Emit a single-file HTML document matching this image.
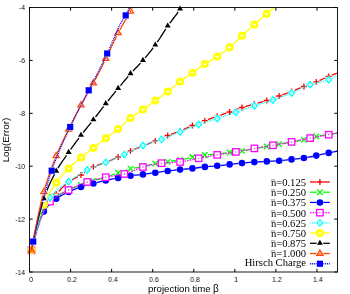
<!DOCTYPE html>
<html><head><meta charset="utf-8"><style>
html,body{margin:0;padding:0;background:#fff;}
body{width:350px;height:294px;position:relative;overflow:hidden;font-family:"Liberation Sans",sans-serif;color:#000;}
.t,.lg,.ax{will-change:transform;}
.t{position:absolute;font-size:7.4px;line-height:8px;white-space:nowrap;}
.yt{width:20px;text-align:right;left:5.2px;transform:scaleX(0.9);transform-origin:100% 50%;}
.xt{width:30px;text-align:center;transform:scaleX(0.92);transform-origin:50% 50%;}
.lg{position:absolute;font-family:"Liberation Serif",serif;font-size:10.6px;line-height:12px;white-space:nowrap;text-align:right;width:120px;left:185.8px;}
.nb{position:relative;display:inline-block;}.nb:before{content:"";position:absolute;left:0.3px;right:0.3px;top:1.2px;height:0.55px;background:#222;}
</style></head><body>
<svg width="350" height="294" viewBox="0 0 350 294" style="position:absolute;left:0;top:0">
<defs><clipPath id="c"><rect x="29" y="7" width="309" height="266"/></clipPath></defs>
<path clip-path="url(#c)" d="M31.40,250.50 L31.46,250.19 L31.59,249.55 L31.77,248.69 L31.99,247.64 L32.24,246.42 L32.53,245.05 L32.84,243.55 L33.19,241.94 L33.56,240.21 L33.96,238.39 L34.38,236.49 L34.82,234.51 L35.29,232.47 L35.78,230.39 L36.29,228.26 L36.82,226.12 L37.38,223.96 L37.95,221.82 L38.54,219.69 L39.15,217.61 L39.78,215.58 L40.43,213.64 L41.09,211.79 L41.78,210.07 L42.48,208.49 L43.19,207.07 L43.93,205.86 L44.68,204.77 L45.45,203.75 L46.23,202.79 L47.03,201.90 L47.84,201.06 L48.67,200.26 L49.52,199.51 L50.38,198.78 L51.25,198.07 L52.14,197.37 L53.04,196.65 L53.96,195.91 L54.90,195.11 L55.84,194.26 L56.80,193.33 L57.78,192.35 L58.77,191.34 L59.77,190.30 L60.78,189.24 L61.81,188.17 L62.85,187.10 L63.91,186.05 L64.98,185.03 L66.06,184.04 L67.15,183.11 L68.26,182.25 L69.38,181.47 L70.51,180.73 L71.65,180.05 L72.81,179.40 L73.98,178.77 L75.16,178.16 L76.35,177.54 L77.56,176.92 L78.77,176.27 L80.00,175.59 L81.24,174.85 L82.49,174.03 L83.76,173.16 L85.03,172.24 L86.32,171.30 L87.62,170.36 L88.92,169.44 L90.25,168.55 L91.58,167.74 L92.92,167.02 L94.27,166.40 L95.64,165.85 L97.01,165.34 L98.40,164.87 L99.80,164.42 L101.21,163.97 L102.63,163.51 L104.06,163.03 L105.50,162.50 L106.95,161.93 L108.41,161.33 L109.88,160.71 L111.36,160.07 L112.86,159.42 L114.36,158.74 L115.87,158.05 L117.40,157.35 L118.93,156.63 L120.48,155.86 L122.03,155.07 L123.59,154.25 L125.17,153.42 L126.75,152.60 L128.35,151.81 L129.95,151.06 L131.56,150.36 L133.19,149.70 L134.82,149.06 L136.47,148.44 L138.12,147.83 L139.78,147.21 L141.45,146.58 L143.13,145.91 L144.83,145.22 L146.53,144.52 L148.24,143.80 L149.96,143.07 L151.69,142.34 L153.42,141.60 L155.17,140.85 L156.93,140.10 L158.70,139.33 L160.47,138.55 L162.26,137.77 L164.05,136.99 L165.85,136.24 L167.67,135.51 L169.49,134.81 L171.32,134.15 L173.16,133.51 L175.01,132.87 L176.86,132.21 L178.73,131.52 L180.61,130.78 L182.49,129.99 L184.38,129.14 L186.28,128.27 L188.20,127.39 L190.11,126.52 L192.04,125.67 L193.98,124.87 L195.93,124.07 L197.88,123.29 L199.84,122.51 L201.81,121.75 L203.79,120.99 L205.78,120.25 L207.78,119.52 L209.79,118.80 L211.80,118.09 L213.82,117.38 L215.85,116.68 L217.89,115.97 L219.94,115.27 L222.00,114.58 L224.06,113.89 L226.14,113.19 L228.22,112.48 L230.31,111.75 L232.40,110.98 L234.51,110.19 L236.62,109.39 L238.75,108.61 L240.88,107.87 L243.02,107.18 L245.16,106.54 L247.32,105.93 L249.48,105.34 L251.65,104.75 L253.83,104.15 L256.02,103.54 L258.22,102.95 L260.42,102.35 L262.63,101.73 L264.85,101.09 L267.08,100.40 L269.31,99.65 L271.56,98.84 L273.81,98.00 L276.07,97.15 L278.33,96.30 L280.61,95.47 L282.89,94.66 L285.18,93.84 L287.48,93.01 L289.78,92.16 L292.10,91.28 L294.42,90.37 L296.75,89.42 L299.08,88.45 L301.43,87.50 L303.78,86.56 L306.14,85.65 L308.51,84.76 L310.88,83.88 L313.26,82.99 L315.65,82.06 L318.05,81.08 L320.45,80.06 L322.87,79.00 L325.29,77.94 L327.72,76.91 L330.15,75.90 L332.59,74.92 L335.04,73.95 L337.50,73.00" fill="none" stroke="#ff0000" stroke-width="1.3" stroke-linejoin="round"/>
<circle cx="31.45" cy="250.26" r="3.4" fill="#fff"/><path d="M28.55,250.26H34.35M31.45,247.36V253.16" stroke="#ff0000" stroke-width="1.3" fill="none"/>
<circle cx="43.84" cy="206.00" r="3.4" fill="#fff"/><path d="M40.94,206.00H46.73M43.84,203.10V208.90" stroke="#ff0000" stroke-width="1.3" fill="none"/>
<circle cx="56.22" cy="193.90" r="3.4" fill="#fff"/><path d="M53.32,193.90H59.12M56.22,191.00V196.80" stroke="#ff0000" stroke-width="1.3" fill="none"/>
<circle cx="68.61" cy="182.00" r="3.4" fill="#fff"/><path d="M65.70,182.00H71.51M68.61,179.10V184.90" stroke="#ff0000" stroke-width="1.3" fill="none"/>
<circle cx="80.99" cy="175.00" r="3.4" fill="#fff"/><path d="M78.09,175.00H83.89M80.99,172.10V177.90" stroke="#ff0000" stroke-width="1.3" fill="none"/>
<circle cx="93.38" cy="166.80" r="3.4" fill="#fff"/><path d="M90.48,166.80H96.28M93.38,163.90V169.70" stroke="#ff0000" stroke-width="1.3" fill="none"/>
<circle cx="105.76" cy="162.40" r="3.4" fill="#fff"/><path d="M102.86,162.40H108.66M105.76,159.50V165.30" stroke="#ff0000" stroke-width="1.3" fill="none"/>
<circle cx="118.15" cy="157.00" r="3.4" fill="#fff"/><path d="M115.25,157.00H121.05M118.15,154.10V159.90" stroke="#ff0000" stroke-width="1.3" fill="none"/>
<circle cx="130.53" cy="150.80" r="3.4" fill="#fff"/><path d="M127.63,150.80H133.43M130.53,147.90V153.70" stroke="#ff0000" stroke-width="1.3" fill="none"/>
<circle cx="142.92" cy="146.00" r="3.4" fill="#fff"/><path d="M140.02,146.00H145.82M142.92,143.10V148.90" stroke="#ff0000" stroke-width="1.3" fill="none"/>
<circle cx="155.30" cy="140.80" r="3.4" fill="#fff"/><path d="M152.40,140.80H158.20M155.30,137.90V143.70" stroke="#ff0000" stroke-width="1.3" fill="none"/>
<circle cx="167.69" cy="135.50" r="3.4" fill="#fff"/><path d="M164.78,135.50H170.59M167.69,132.60V138.40" stroke="#ff0000" stroke-width="1.3" fill="none"/>
<circle cx="180.07" cy="131.00" r="3.4" fill="#fff"/><path d="M177.17,131.00H182.97M180.07,128.10V133.90" stroke="#ff0000" stroke-width="1.3" fill="none"/>
<circle cx="192.45" cy="125.50" r="3.4" fill="#fff"/><path d="M189.55,125.50H195.35M192.45,122.60V128.40" stroke="#ff0000" stroke-width="1.3" fill="none"/>
<circle cx="204.84" cy="120.60" r="3.4" fill="#fff"/><path d="M201.94,120.60H207.74M204.84,117.70V123.50" stroke="#ff0000" stroke-width="1.3" fill="none"/>
<circle cx="217.22" cy="116.20" r="3.4" fill="#fff"/><path d="M214.32,116.20H220.12M217.22,113.30V119.10" stroke="#ff0000" stroke-width="1.3" fill="none"/>
<circle cx="229.61" cy="112.00" r="3.4" fill="#fff"/><path d="M226.71,112.00H232.51M229.61,109.10V114.90" stroke="#ff0000" stroke-width="1.3" fill="none"/>
<circle cx="241.99" cy="107.50" r="3.4" fill="#fff"/><path d="M239.09,107.50H244.89M241.99,104.60V110.40" stroke="#ff0000" stroke-width="1.3" fill="none"/>
<circle cx="254.38" cy="104.00" r="3.4" fill="#fff"/><path d="M251.48,104.00H257.28M254.38,101.10V106.90" stroke="#ff0000" stroke-width="1.3" fill="none"/>
<circle cx="266.76" cy="100.50" r="3.4" fill="#fff"/><path d="M263.86,100.50H269.66M266.76,97.60V103.40" stroke="#ff0000" stroke-width="1.3" fill="none"/>
<circle cx="279.15" cy="96.00" r="3.4" fill="#fff"/><path d="M276.25,96.00H282.05M279.15,93.10V98.90" stroke="#ff0000" stroke-width="1.3" fill="none"/>
<circle cx="291.53" cy="91.50" r="3.4" fill="#fff"/><path d="M288.63,91.50H294.43M291.53,88.60V94.40" stroke="#ff0000" stroke-width="1.3" fill="none"/>
<circle cx="303.92" cy="86.50" r="3.4" fill="#fff"/><path d="M301.02,86.50H306.82M303.92,83.60V89.40" stroke="#ff0000" stroke-width="1.3" fill="none"/>
<circle cx="316.30" cy="81.80" r="3.4" fill="#fff"/><path d="M313.40,81.80H319.20M316.30,78.90V84.70" stroke="#ff0000" stroke-width="1.3" fill="none"/>
<circle cx="328.69" cy="76.50" r="3.4" fill="#fff"/><path d="M325.79,76.50H331.59M328.69,73.60V79.40" stroke="#ff0000" stroke-width="1.3" fill="none"/>
<path clip-path="url(#c)" d="M31.40,250.50 L31.46,250.22 L31.59,249.65 L31.77,248.88 L31.99,247.94 L32.24,246.85 L32.53,245.63 L32.84,244.30 L33.19,242.85 L33.56,241.32 L33.96,239.69 L34.38,237.99 L34.82,236.22 L35.29,234.40 L35.78,232.53 L36.29,230.63 L36.82,228.70 L37.38,226.76 L37.95,224.82 L38.54,222.90 L39.15,221.00 L39.78,219.15 L40.43,217.35 L41.09,215.63 L41.78,214.00 L42.48,212.48 L43.19,211.09 L43.93,209.85 L44.68,208.70 L45.45,207.60 L46.23,206.53 L47.03,205.51 L47.84,204.53 L48.67,203.60 L49.52,202.70 L50.38,201.84 L51.25,201.01 L52.14,200.22 L53.04,199.45 L53.96,198.71 L54.90,197.99 L55.84,197.28 L56.80,196.58 L57.78,195.90 L58.77,195.25 L59.77,194.62 L60.78,194.01 L61.81,193.42 L62.85,192.85 L63.91,192.30 L64.98,191.75 L66.06,191.22 L67.15,190.69 L68.26,190.16 L69.38,189.64 L70.51,189.13 L71.65,188.63 L72.81,188.14 L73.98,187.66 L75.16,187.18 L76.35,186.72 L77.56,186.26 L78.77,185.81 L80.00,185.36 L81.24,184.91 L82.49,184.47 L83.76,184.04 L85.03,183.62 L86.32,183.21 L87.62,182.80 L88.92,182.39 L90.25,181.98 L91.58,181.56 L92.92,181.14 L94.27,180.72 L95.64,180.30 L97.01,179.89 L98.40,179.47 L99.80,179.05 L101.21,178.63 L102.63,178.20 L104.06,177.75 L105.50,177.29 L106.95,176.80 L108.41,176.30 L109.88,175.77 L111.36,175.24 L112.86,174.69 L114.36,174.14 L115.87,173.60 L117.40,173.06 L118.93,172.53 L120.48,171.97 L122.03,171.41 L123.59,170.84 L125.17,170.29 L126.75,169.76 L128.35,169.27 L129.95,168.84 L131.56,168.47 L133.19,168.15 L134.82,167.86 L136.47,167.60 L138.12,167.34 L139.78,167.07 L141.45,166.78 L143.13,166.46 L144.83,166.08 L146.53,165.68 L148.24,165.25 L149.96,164.81 L151.69,164.38 L153.42,163.98 L155.17,163.62 L156.93,163.31 L158.70,163.02 L160.47,162.74 L162.26,162.48 L164.05,162.22 L165.85,161.96 L167.67,161.70 L169.49,161.45 L171.32,161.22 L173.16,160.99 L175.01,160.75 L176.86,160.50 L178.73,160.22 L180.61,159.90 L182.49,159.50 L184.38,159.03 L186.28,158.52 L188.20,158.01 L190.11,157.52 L192.04,157.08 L193.98,156.71 L195.93,156.34 L197.88,156.00 L199.84,155.67 L201.81,155.38 L203.79,155.12 L205.78,154.90 L207.78,154.73 L209.79,154.57 L211.80,154.43 L213.82,154.29 L215.85,154.12 L217.89,153.93 L219.94,153.71 L222.00,153.46 L224.06,153.20 L226.14,152.93 L228.22,152.67 L230.31,152.42 L232.40,152.19 L234.51,151.98 L236.62,151.76 L238.75,151.52 L240.88,151.26 L243.02,150.94 L245.16,150.55 L247.32,150.10 L249.48,149.62 L251.65,149.15 L253.83,148.70 L256.02,148.30 L258.22,147.93 L260.42,147.56 L262.63,147.19 L264.85,146.83 L267.08,146.45 L269.31,146.06 L271.56,145.66 L273.81,145.26 L276.07,144.86 L278.33,144.45 L280.61,144.03 L282.89,143.61 L285.18,143.18 L287.48,142.75 L289.78,142.32 L292.10,141.90 L294.42,141.50 L296.75,141.12 L299.08,140.72 L301.43,140.30 L303.78,139.83 L306.14,139.25 L308.51,138.57 L310.88,137.83 L313.26,137.13 L315.65,136.54 L318.05,136.08 L320.45,135.69 L322.87,135.34 L325.29,135.01 L327.72,134.65 L330.15,134.26 L332.59,133.85 L335.04,133.43 L337.50,133.00" fill="none" stroke="#00ff00" stroke-width="1.3" stroke-linejoin="round"/>
<circle cx="31.45" cy="250.28" r="3.4" fill="#fff"/><path d="M28.65,247.48L34.25,253.08M28.65,253.08L34.25,247.48" stroke="#00ff00" stroke-width="1.3" fill="none"/>
<circle cx="43.84" cy="210.00" r="3.4" fill="#fff"/><path d="M41.04,207.20L46.63,212.80M41.04,212.80L46.63,207.20" stroke="#00ff00" stroke-width="1.3" fill="none"/>
<circle cx="56.22" cy="197.00" r="3.4" fill="#fff"/><path d="M53.42,194.20L59.02,199.80M53.42,199.80L59.02,194.20" stroke="#00ff00" stroke-width="1.3" fill="none"/>
<circle cx="68.61" cy="190.00" r="3.4" fill="#fff"/><path d="M65.81,187.20L71.41,192.80M65.81,192.80L71.41,187.20" stroke="#00ff00" stroke-width="1.3" fill="none"/>
<circle cx="80.99" cy="185.00" r="3.4" fill="#fff"/><path d="M78.19,182.20L83.79,187.80M78.19,187.80L83.79,182.20" stroke="#00ff00" stroke-width="1.3" fill="none"/>
<circle cx="93.38" cy="181.00" r="3.4" fill="#fff"/><path d="M90.58,178.20L96.18,183.80M90.58,183.80L96.18,178.20" stroke="#00ff00" stroke-width="1.3" fill="none"/>
<circle cx="105.76" cy="177.20" r="3.4" fill="#fff"/><path d="M102.96,174.40L108.56,180.00M102.96,180.00L108.56,174.40" stroke="#00ff00" stroke-width="1.3" fill="none"/>
<circle cx="118.15" cy="172.80" r="3.4" fill="#fff"/><path d="M115.35,170.00L120.95,175.60M115.35,175.60L120.95,170.00" stroke="#00ff00" stroke-width="1.3" fill="none"/>
<circle cx="130.53" cy="168.70" r="3.4" fill="#fff"/><path d="M127.73,165.90L133.33,171.50M127.73,171.50L133.33,165.90" stroke="#00ff00" stroke-width="1.3" fill="none"/>
<circle cx="142.92" cy="166.50" r="3.4" fill="#fff"/><path d="M140.12,163.70L145.72,169.30M140.12,169.30L145.72,163.70" stroke="#00ff00" stroke-width="1.3" fill="none"/>
<circle cx="155.30" cy="163.60" r="3.4" fill="#fff"/><path d="M152.50,160.80L158.10,166.40M152.50,166.40L158.10,160.80" stroke="#00ff00" stroke-width="1.3" fill="none"/>
<circle cx="167.69" cy="161.70" r="3.4" fill="#fff"/><path d="M164.88,158.90L170.49,164.50M164.88,164.50L170.49,158.90" stroke="#00ff00" stroke-width="1.3" fill="none"/>
<circle cx="180.07" cy="160.00" r="3.4" fill="#fff"/><path d="M177.27,157.20L182.87,162.80M177.27,162.80L182.87,157.20" stroke="#00ff00" stroke-width="1.3" fill="none"/>
<circle cx="192.45" cy="157.00" r="3.4" fill="#fff"/><path d="M189.65,154.20L195.25,159.80M189.65,159.80L195.25,154.20" stroke="#00ff00" stroke-width="1.3" fill="none"/>
<circle cx="204.84" cy="155.00" r="3.4" fill="#fff"/><path d="M202.04,152.20L207.64,157.80M202.04,157.80L207.64,152.20" stroke="#00ff00" stroke-width="1.3" fill="none"/>
<circle cx="217.22" cy="154.00" r="3.4" fill="#fff"/><path d="M214.42,151.20L220.02,156.80M214.42,156.80L220.02,151.20" stroke="#00ff00" stroke-width="1.3" fill="none"/>
<circle cx="229.61" cy="152.50" r="3.4" fill="#fff"/><path d="M226.81,149.70L232.41,155.30M226.81,155.30L232.41,149.70" stroke="#00ff00" stroke-width="1.3" fill="none"/>
<circle cx="241.99" cy="151.10" r="3.4" fill="#fff"/><path d="M239.19,148.30L244.79,153.90M239.19,153.90L244.79,148.30" stroke="#00ff00" stroke-width="1.3" fill="none"/>
<circle cx="254.38" cy="148.60" r="3.4" fill="#fff"/><path d="M251.58,145.80L257.18,151.40M251.58,151.40L257.18,145.80" stroke="#00ff00" stroke-width="1.3" fill="none"/>
<circle cx="266.76" cy="146.50" r="3.4" fill="#fff"/><path d="M263.96,143.70L269.56,149.30M263.96,149.30L269.56,143.70" stroke="#00ff00" stroke-width="1.3" fill="none"/>
<circle cx="279.15" cy="144.30" r="3.4" fill="#fff"/><path d="M276.35,141.50L281.95,147.10M276.35,147.10L281.95,141.50" stroke="#00ff00" stroke-width="1.3" fill="none"/>
<circle cx="291.53" cy="142.00" r="3.4" fill="#fff"/><path d="M288.73,139.20L294.33,144.80M288.73,144.80L294.33,139.20" stroke="#00ff00" stroke-width="1.3" fill="none"/>
<circle cx="303.92" cy="139.80" r="3.4" fill="#fff"/><path d="M301.12,137.00L306.72,142.60M301.12,142.60L306.72,137.00" stroke="#00ff00" stroke-width="1.3" fill="none"/>
<circle cx="316.30" cy="136.40" r="3.4" fill="#fff"/><path d="M313.50,133.60L319.10,139.20M313.50,139.20L319.10,133.60" stroke="#00ff00" stroke-width="1.3" fill="none"/>
<circle cx="328.69" cy="134.50" r="3.4" fill="#fff"/><path d="M325.89,131.70L331.49,137.30M325.89,137.30L331.49,131.70" stroke="#00ff00" stroke-width="1.3" fill="none"/>
<path clip-path="url(#c)" d="M31.40,250.50 L31.46,250.23 L31.59,249.69 L31.77,248.95 L31.99,248.04 L32.24,247.00 L32.53,245.83 L32.84,244.54 L33.19,243.16 L33.56,241.68 L33.96,240.12 L34.38,238.49 L34.82,236.79 L35.29,235.04 L35.78,233.24 L36.29,231.42 L36.82,229.56 L37.38,227.70 L37.95,225.83 L38.54,223.98 L39.15,222.15 L39.78,220.37 L40.43,218.63 L41.09,216.97 L41.78,215.39 L42.48,213.92 L43.19,212.57 L43.93,211.36 L44.68,210.23 L45.45,209.14 L46.23,208.09 L47.03,207.09 L47.84,206.12 L48.67,205.19 L49.52,204.31 L50.38,203.45 L51.25,202.64 L52.14,201.85 L53.04,201.10 L53.96,200.37 L54.90,199.66 L55.84,198.97 L56.80,198.29 L57.78,197.64 L58.77,197.02 L59.77,196.42 L60.78,195.84 L61.81,195.28 L62.85,194.74 L63.91,194.21 L64.98,193.69 L66.06,193.18 L67.15,192.67 L68.26,192.16 L69.38,191.64 L70.51,191.13 L71.65,190.63 L72.81,190.13 L73.98,189.64 L75.16,189.15 L76.35,188.68 L77.56,188.22 L78.77,187.77 L80.00,187.34 L81.24,186.92 L82.49,186.51 L83.76,186.13 L85.03,185.75 L86.32,185.39 L87.62,185.03 L88.92,184.68 L90.25,184.33 L91.58,183.97 L92.92,183.62 L94.27,183.26 L95.64,182.90 L97.01,182.54 L98.40,182.18 L99.80,181.83 L101.21,181.47 L102.63,181.13 L104.06,180.79 L105.50,180.46 L106.95,180.14 L108.41,179.82 L109.88,179.52 L111.36,179.21 L112.86,178.92 L114.36,178.62 L115.87,178.33 L117.40,178.04 L118.93,177.75 L120.48,177.45 L122.03,177.15 L123.59,176.85 L125.17,176.56 L126.75,176.28 L128.35,176.02 L129.95,175.78 L131.56,175.57 L133.19,175.38 L134.82,175.21 L136.47,175.05 L138.12,174.90 L139.78,174.74 L141.45,174.57 L143.13,174.37 L144.83,174.16 L146.53,173.94 L148.24,173.70 L149.96,173.46 L151.69,173.21 L153.42,172.96 L155.17,172.72 L156.93,172.47 L158.70,172.22 L160.47,171.97 L162.26,171.72 L164.05,171.47 L165.85,171.23 L167.67,171.00 L169.49,170.78 L171.32,170.56 L173.16,170.35 L175.01,170.14 L176.86,169.94 L178.73,169.74 L180.61,169.54 L182.49,169.36 L184.38,169.18 L186.28,169.00 L188.20,168.83 L190.11,168.64 L192.04,168.44 L193.98,168.23 L195.93,167.99 L197.88,167.74 L199.84,167.49 L201.81,167.24 L203.79,167.01 L205.78,166.81 L207.78,166.62 L209.79,166.45 L211.80,166.28 L213.82,166.11 L215.85,165.93 L217.89,165.73 L219.94,165.51 L222.00,165.28 L224.06,165.04 L226.14,164.79 L228.22,164.55 L230.31,164.32 L232.40,164.09 L234.51,163.86 L236.62,163.64 L238.75,163.41 L240.88,163.20 L243.02,163.01 L245.16,162.82 L247.32,162.63 L249.48,162.46 L251.65,162.29 L253.83,162.14 L256.02,161.99 L258.22,161.86 L260.42,161.74 L262.63,161.62 L264.85,161.51 L267.08,161.38 L269.31,161.26 L271.56,161.15 L273.81,161.03 L276.07,160.90 L278.33,160.76 L280.61,160.58 L282.89,160.37 L285.18,160.12 L287.48,159.86 L289.78,159.60 L292.10,159.34 L294.42,159.10 L296.75,158.86 L299.08,158.61 L301.43,158.33 L303.78,158.02 L306.14,157.65 L308.51,157.22 L310.88,156.74 L313.26,156.24 L315.65,155.73 L318.05,155.24 L320.45,154.72 L322.87,154.19 L325.29,153.65 L327.72,153.11 L330.15,152.58 L332.59,152.06 L335.04,151.53 L337.50,151.00" fill="none" stroke="#0000ff" stroke-width="1.3" stroke-linejoin="round"/>
<circle cx="31.45" cy="250.29" r="3.4" fill="#fff"/><circle cx="31.45" cy="250.29" r="3.3" fill="#0000ff"/>
<circle cx="43.84" cy="211.50" r="3.4" fill="#fff"/><circle cx="43.84" cy="211.50" r="3.3" fill="#0000ff"/>
<circle cx="56.22" cy="198.70" r="3.4" fill="#fff"/><circle cx="56.22" cy="198.70" r="3.3" fill="#0000ff"/>
<circle cx="68.61" cy="192.00" r="3.4" fill="#fff"/><circle cx="68.61" cy="192.00" r="3.3" fill="#0000ff"/>
<circle cx="80.99" cy="187.00" r="3.4" fill="#fff"/><circle cx="80.99" cy="187.00" r="3.3" fill="#0000ff"/>
<circle cx="93.38" cy="183.50" r="3.4" fill="#fff"/><circle cx="93.38" cy="183.50" r="3.3" fill="#0000ff"/>
<circle cx="105.76" cy="180.40" r="3.4" fill="#fff"/><circle cx="105.76" cy="180.40" r="3.3" fill="#0000ff"/>
<circle cx="118.15" cy="177.90" r="3.4" fill="#fff"/><circle cx="118.15" cy="177.90" r="3.3" fill="#0000ff"/>
<circle cx="130.53" cy="175.70" r="3.4" fill="#fff"/><circle cx="130.53" cy="175.70" r="3.3" fill="#0000ff"/>
<circle cx="142.92" cy="174.40" r="3.4" fill="#fff"/><circle cx="142.92" cy="174.40" r="3.3" fill="#0000ff"/>
<circle cx="155.30" cy="172.70" r="3.4" fill="#fff"/><circle cx="155.30" cy="172.70" r="3.3" fill="#0000ff"/>
<circle cx="167.69" cy="171.00" r="3.4" fill="#fff"/><circle cx="167.69" cy="171.00" r="3.3" fill="#0000ff"/>
<circle cx="180.07" cy="169.60" r="3.4" fill="#fff"/><circle cx="180.07" cy="169.60" r="3.3" fill="#0000ff"/>
<circle cx="192.45" cy="168.40" r="3.4" fill="#fff"/><circle cx="192.45" cy="168.40" r="3.3" fill="#0000ff"/>
<circle cx="204.84" cy="166.90" r="3.4" fill="#fff"/><circle cx="204.84" cy="166.90" r="3.3" fill="#0000ff"/>
<circle cx="217.22" cy="165.80" r="3.4" fill="#fff"/><circle cx="217.22" cy="165.80" r="3.3" fill="#0000ff"/>
<circle cx="229.61" cy="164.40" r="3.4" fill="#fff"/><circle cx="229.61" cy="164.40" r="3.3" fill="#0000ff"/>
<circle cx="241.99" cy="163.10" r="3.4" fill="#fff"/><circle cx="241.99" cy="163.10" r="3.3" fill="#0000ff"/>
<circle cx="254.38" cy="162.10" r="3.4" fill="#fff"/><circle cx="254.38" cy="162.10" r="3.3" fill="#0000ff"/>
<circle cx="266.76" cy="161.40" r="3.4" fill="#fff"/><circle cx="266.76" cy="161.40" r="3.3" fill="#0000ff"/>
<circle cx="279.15" cy="160.70" r="3.4" fill="#fff"/><circle cx="279.15" cy="160.70" r="3.3" fill="#0000ff"/>
<circle cx="291.53" cy="159.40" r="3.4" fill="#fff"/><circle cx="291.53" cy="159.40" r="3.3" fill="#0000ff"/>
<circle cx="303.92" cy="158.00" r="3.4" fill="#fff"/><circle cx="303.92" cy="158.00" r="3.3" fill="#0000ff"/>
<circle cx="316.30" cy="155.60" r="3.4" fill="#fff"/><circle cx="316.30" cy="155.60" r="3.3" fill="#0000ff"/>
<circle cx="328.69" cy="152.90" r="3.4" fill="#fff"/><circle cx="328.69" cy="152.90" r="3.3" fill="#0000ff"/>
<path clip-path="url(#c)" d="M31.40,250.50 L31.46,250.27 L31.59,249.79 L31.77,249.15 L31.99,248.37 L32.24,247.46 L32.53,246.43 L32.84,245.31 L33.19,244.09 L33.56,242.78 L33.96,241.39 L34.38,239.93 L34.82,238.40 L35.29,236.81 L35.78,235.16 L36.29,233.47 L36.82,231.73 L37.38,229.95 L37.95,228.14 L38.54,226.31 L39.15,224.46 L39.78,222.61 L40.43,220.76 L41.09,218.91 L41.78,217.09 L42.48,215.29 L43.19,213.52 L43.93,211.81 L44.68,210.15 L45.45,208.57 L46.23,207.07 L47.03,205.66 L47.84,204.36 L48.67,203.19 L49.52,202.15 L50.38,201.26 L51.25,200.42 L52.14,199.62 L53.04,198.86 L53.96,198.13 L54.90,197.44 L55.84,196.77 L56.80,196.14 L57.78,195.53 L58.77,194.95 L59.77,194.39 L60.78,193.85 L61.81,193.32 L62.85,192.81 L63.91,192.29 L64.98,191.78 L66.06,191.26 L67.15,190.73 L68.26,190.18 L69.38,189.61 L70.51,189.04 L71.65,188.48 L72.81,187.91 L73.98,187.36 L75.16,186.80 L76.35,186.26 L77.56,185.72 L78.77,185.19 L80.00,184.67 L81.24,184.16 L82.49,183.67 L83.76,183.19 L85.03,182.73 L86.32,182.29 L87.62,181.86 L88.92,181.45 L90.25,181.05 L91.58,180.66 L92.92,180.28 L94.27,179.91 L95.64,179.55 L97.01,179.19 L98.40,178.85 L99.80,178.52 L101.21,178.19 L102.63,177.87 L104.06,177.56 L105.50,177.26 L106.95,176.97 L108.41,176.70 L109.88,176.45 L111.36,176.22 L112.86,175.99 L114.36,175.77 L115.87,175.55 L117.40,175.32 L118.93,175.07 L120.48,174.80 L122.03,174.50 L123.59,174.17 L125.17,173.79 L126.75,173.32 L128.35,172.76 L129.95,172.14 L131.56,171.47 L133.19,170.77 L134.82,170.05 L136.47,169.33 L138.12,168.65 L139.78,168.01 L141.45,167.43 L143.13,166.95 L144.83,166.50 L146.53,166.06 L148.24,165.64 L149.96,165.22 L151.69,164.83 L153.42,164.46 L155.17,164.12 L156.93,163.81 L158.70,163.54 L160.47,163.31 L162.26,163.13 L164.05,162.98 L165.85,162.86 L167.67,162.75 L169.49,162.66 L171.32,162.57 L173.16,162.48 L175.01,162.38 L176.86,162.27 L178.73,162.12 L180.61,161.95 L182.49,161.70 L184.38,161.40 L186.28,161.03 L188.20,160.63 L190.11,160.20 L192.04,159.75 L193.98,159.30 L195.93,158.86 L197.88,158.45 L199.84,158.08 L201.81,157.70 L203.79,157.33 L205.78,156.96 L207.78,156.59 L209.79,156.22 L211.80,155.86 L213.82,155.50 L215.85,155.14 L217.89,154.79 L219.94,154.45 L222.00,154.12 L224.06,153.79 L226.14,153.47 L228.22,153.14 L230.31,152.81 L232.40,152.48 L234.51,152.13 L236.62,151.76 L238.75,151.38 L240.88,150.98 L243.02,150.57 L245.16,150.15 L247.32,149.73 L249.48,149.31 L251.65,148.90 L253.83,148.50 L256.02,148.12 L258.22,147.75 L260.42,147.38 L262.63,147.02 L264.85,146.66 L267.08,146.29 L269.31,145.93 L271.56,145.55 L273.81,145.16 L276.07,144.76 L278.33,144.36 L280.61,143.95 L282.89,143.53 L285.18,143.11 L287.48,142.68 L289.78,142.24 L292.10,141.80 L294.42,141.34 L296.75,140.86 L299.08,140.37 L301.43,139.88 L303.78,139.39 L306.14,138.90 L308.51,138.42 L310.88,137.96 L313.26,137.51 L315.65,137.07 L318.05,136.64 L320.45,136.21 L322.87,135.78 L325.29,135.34 L327.72,134.89 L330.15,134.43 L332.59,133.96 L335.04,133.48 L337.50,133.00" fill="none" stroke="#ff00ff" stroke-width="1.3" stroke-dasharray="1.5,1.1" stroke-linejoin="round"/>
<circle cx="31.45" cy="250.32" r="3.4" fill="#fff"/><rect x="28.25" y="247.12" width="6.4" height="6.4" fill="#fff" stroke="#ff00ff" stroke-width="1.3"/><circle cx="31.45" cy="250.32" r="0.65" fill="#ff00ff"/>
<circle cx="50.03" cy="201.60" r="3.4" fill="#fff"/><rect x="46.83" y="198.40" width="6.4" height="6.4" fill="#fff" stroke="#ff00ff" stroke-width="1.3"/><circle cx="50.03" cy="201.60" r="0.65" fill="#ff00ff"/>
<circle cx="68.61" cy="190.00" r="3.4" fill="#fff"/><rect x="65.41" y="186.80" width="6.4" height="6.4" fill="#fff" stroke="#ff00ff" stroke-width="1.3"/><circle cx="68.61" cy="190.00" r="0.65" fill="#ff00ff"/>
<circle cx="87.19" cy="182.00" r="3.4" fill="#fff"/><rect x="83.99" y="178.80" width="6.4" height="6.4" fill="#fff" stroke="#ff00ff" stroke-width="1.3"/><circle cx="87.19" cy="182.00" r="0.65" fill="#ff00ff"/>
<circle cx="105.77" cy="177.20" r="3.4" fill="#fff"/><rect x="102.57" y="174.00" width="6.4" height="6.4" fill="#fff" stroke="#ff00ff" stroke-width="1.3"/><circle cx="105.77" cy="177.20" r="0.65" fill="#ff00ff"/>
<circle cx="124.35" cy="174.00" r="3.4" fill="#fff"/><rect x="121.15" y="170.80" width="6.4" height="6.4" fill="#fff" stroke="#ff00ff" stroke-width="1.3"/><circle cx="124.35" cy="174.00" r="0.65" fill="#ff00ff"/>
<circle cx="142.93" cy="167.00" r="3.4" fill="#fff"/><rect x="139.73" y="163.80" width="6.4" height="6.4" fill="#fff" stroke="#ff00ff" stroke-width="1.3"/><circle cx="142.93" cy="167.00" r="0.65" fill="#ff00ff"/>
<circle cx="161.51" cy="163.20" r="3.4" fill="#fff"/><rect x="158.31" y="160.00" width="6.4" height="6.4" fill="#fff" stroke="#ff00ff" stroke-width="1.3"/><circle cx="161.51" cy="163.20" r="0.65" fill="#ff00ff"/>
<circle cx="180.09" cy="162.00" r="3.4" fill="#fff"/><rect x="176.89" y="158.80" width="6.4" height="6.4" fill="#fff" stroke="#ff00ff" stroke-width="1.3"/><circle cx="180.09" cy="162.00" r="0.65" fill="#ff00ff"/>
<circle cx="198.67" cy="158.30" r="3.4" fill="#fff"/><rect x="195.47" y="155.10" width="6.4" height="6.4" fill="#fff" stroke="#ff00ff" stroke-width="1.3"/><circle cx="198.67" cy="158.30" r="0.65" fill="#ff00ff"/>
<circle cx="217.25" cy="154.90" r="3.4" fill="#fff"/><rect x="214.05" y="151.70" width="6.4" height="6.4" fill="#fff" stroke="#ff00ff" stroke-width="1.3"/><circle cx="217.25" cy="154.90" r="0.65" fill="#ff00ff"/>
<circle cx="235.83" cy="151.90" r="3.4" fill="#fff"/><rect x="232.63" y="148.70" width="6.4" height="6.4" fill="#fff" stroke="#ff00ff" stroke-width="1.3"/><circle cx="235.83" cy="151.90" r="0.65" fill="#ff00ff"/>
<circle cx="254.41" cy="148.40" r="3.4" fill="#fff"/><rect x="251.21" y="145.20" width="6.4" height="6.4" fill="#fff" stroke="#ff00ff" stroke-width="1.3"/><circle cx="254.41" cy="148.40" r="0.65" fill="#ff00ff"/>
<circle cx="272.99" cy="145.30" r="3.4" fill="#fff"/><rect x="269.79" y="142.10" width="6.4" height="6.4" fill="#fff" stroke="#ff00ff" stroke-width="1.3"/><circle cx="272.99" cy="145.30" r="0.65" fill="#ff00ff"/>
<circle cx="291.57" cy="141.90" r="3.4" fill="#fff"/><rect x="288.37" y="138.70" width="6.4" height="6.4" fill="#fff" stroke="#ff00ff" stroke-width="1.3"/><circle cx="291.57" cy="141.90" r="0.65" fill="#ff00ff"/>
<circle cx="310.15" cy="138.10" r="3.4" fill="#fff"/><rect x="306.95" y="134.90" width="6.4" height="6.4" fill="#fff" stroke="#ff00ff" stroke-width="1.3"/><circle cx="310.15" cy="138.10" r="0.65" fill="#ff00ff"/>
<circle cx="328.73" cy="134.70" r="3.4" fill="#fff"/><rect x="325.53" y="131.50" width="6.4" height="6.4" fill="#fff" stroke="#ff00ff" stroke-width="1.3"/><circle cx="328.73" cy="134.70" r="0.65" fill="#ff00ff"/>
<path clip-path="url(#c)" d="M31.40,250.50 L31.46,250.25 L31.59,249.75 L31.77,249.07 L31.99,248.24 L32.24,247.28 L32.53,246.19 L32.84,245.00 L33.19,243.71 L33.56,242.33 L33.96,240.86 L34.38,239.31 L34.82,237.70 L35.29,236.01 L35.78,234.27 L36.29,232.47 L36.82,230.63 L37.38,228.75 L37.95,226.83 L38.54,224.88 L39.15,222.92 L39.78,220.94 L40.43,218.96 L41.09,216.98 L41.78,215.02 L42.48,213.07 L43.19,211.15 L43.93,209.28 L44.68,207.45 L45.45,205.69 L46.23,204.00 L47.03,202.39 L47.84,200.88 L48.67,199.48 L49.52,198.20 L50.38,197.05 L51.25,195.96 L52.14,194.92 L53.04,193.91 L53.96,192.95 L54.90,192.03 L55.84,191.14 L56.80,190.29 L57.78,189.46 L58.77,188.67 L59.77,187.90 L60.78,187.15 L61.81,186.41 L62.85,185.68 L63.91,184.96 L64.98,184.23 L66.06,183.49 L67.15,182.73 L68.26,181.95 L69.38,181.15 L70.51,180.34 L71.65,179.53 L72.81,178.72 L73.98,177.92 L75.16,177.12 L76.35,176.33 L77.56,175.54 L78.77,174.77 L80.00,174.01 L81.24,173.26 L82.49,172.52 L83.76,171.81 L85.03,171.11 L86.32,170.44 L87.62,169.79 L88.92,169.17 L90.25,168.57 L91.58,167.99 L92.92,167.42 L94.27,166.88 L95.64,166.34 L97.01,165.80 L98.40,165.28 L99.80,164.74 L101.21,164.21 L102.63,163.66 L104.06,163.10 L105.50,162.51 L106.95,161.91 L108.41,161.31 L109.88,160.71 L111.36,160.10 L112.86,159.49 L114.36,158.88 L115.87,158.25 L117.40,157.62 L118.93,156.97 L120.48,156.31 L122.03,155.63 L123.59,154.94 L125.17,154.22 L126.75,153.47 L128.35,152.67 L129.95,151.85 L131.56,151.00 L133.19,150.15 L134.82,149.30 L136.47,148.46 L138.12,147.64 L139.78,146.85 L141.45,146.11 L143.13,145.42 L144.83,144.78 L146.53,144.19 L148.24,143.62 L149.96,143.07 L151.69,142.54 L153.42,142.01 L155.17,141.48 L156.93,140.94 L158.70,140.37 L160.47,139.77 L162.26,139.13 L164.05,138.45 L165.85,137.75 L167.67,137.03 L169.49,136.28 L171.32,135.53 L173.16,134.76 L175.01,133.99 L176.86,133.22 L178.73,132.45 L180.61,131.69 L182.49,130.93 L184.38,130.15 L186.28,129.37 L188.20,128.58 L190.11,127.80 L192.04,127.02 L193.98,126.26 L195.93,125.51 L197.88,124.78 L199.84,124.09 L201.81,123.41 L203.79,122.76 L205.78,122.12 L207.78,121.49 L209.79,120.86 L211.80,120.24 L213.82,119.60 L215.85,118.95 L217.89,118.29 L219.94,117.62 L222.00,116.94 L224.06,116.25 L226.14,115.57 L228.22,114.87 L230.31,114.17 L232.40,113.46 L234.51,112.75 L236.62,112.03 L238.75,111.29 L240.88,110.54 L243.02,109.77 L245.16,109.01 L247.32,108.24 L249.48,107.48 L251.65,106.73 L253.83,105.99 L256.02,105.28 L258.22,104.59 L260.42,103.91 L262.63,103.24 L264.85,102.58 L267.08,101.90 L269.31,101.20 L271.56,100.48 L273.81,99.72 L276.07,98.94 L278.33,98.15 L280.61,97.33 L282.89,96.49 L285.18,95.63 L287.48,94.74 L289.78,93.83 L292.10,92.88 L294.42,91.85 L296.75,90.73 L299.08,89.56 L301.43,88.38 L303.78,87.23 L306.14,86.15 L308.51,85.18 L310.88,84.37 L313.26,83.69 L315.65,83.11 L318.05,82.58 L320.45,82.07 L322.87,81.52 L325.29,80.90 L327.72,80.16 L330.15,79.22 L332.59,77.99 L335.04,76.55 L337.50,75.00" fill="none" stroke="#00ffff" stroke-width="1.3" stroke-dasharray="1.0,0.9" stroke-linejoin="round"/>
<circle cx="31.45" cy="250.31" r="3.4" fill="#fff"/><path d="M31.45,247.11L34.25,250.31L31.45,253.51L28.65,250.31Z" fill="#fff" stroke="#00ffff" stroke-width="1.3"/><circle cx="31.45" cy="250.31" r="0.65" fill="#00ffff"/>
<circle cx="50.03" cy="197.50" r="3.4" fill="#fff"/><path d="M50.03,194.30L52.83,197.50L50.03,200.70L47.23,197.50Z" fill="#fff" stroke="#00ffff" stroke-width="1.3"/><circle cx="50.03" cy="197.50" r="0.65" fill="#00ffff"/>
<circle cx="68.61" cy="181.70" r="3.4" fill="#fff"/><path d="M68.61,178.50L71.41,181.70L68.61,184.90L65.81,181.70Z" fill="#fff" stroke="#00ffff" stroke-width="1.3"/><circle cx="68.61" cy="181.70" r="0.65" fill="#00ffff"/>
<circle cx="87.19" cy="170.00" r="3.4" fill="#fff"/><path d="M87.19,166.80L89.99,170.00L87.19,173.20L84.39,170.00Z" fill="#fff" stroke="#00ffff" stroke-width="1.3"/><circle cx="87.19" cy="170.00" r="0.65" fill="#00ffff"/>
<circle cx="105.77" cy="162.40" r="3.4" fill="#fff"/><path d="M105.77,159.20L108.57,162.40L105.77,165.60L102.97,162.40Z" fill="#fff" stroke="#00ffff" stroke-width="1.3"/><circle cx="105.77" cy="162.40" r="0.65" fill="#00ffff"/>
<circle cx="124.35" cy="154.60" r="3.4" fill="#fff"/><path d="M124.35,151.40L127.15,154.60L124.35,157.80L121.55,154.60Z" fill="#fff" stroke="#00ffff" stroke-width="1.3"/><circle cx="124.35" cy="154.60" r="0.65" fill="#00ffff"/>
<circle cx="142.93" cy="145.50" r="3.4" fill="#fff"/><path d="M142.93,142.30L145.73,145.50L142.93,148.70L140.13,145.50Z" fill="#fff" stroke="#00ffff" stroke-width="1.3"/><circle cx="142.93" cy="145.50" r="0.65" fill="#00ffff"/>
<circle cx="161.51" cy="139.40" r="3.4" fill="#fff"/><path d="M161.51,136.20L164.31,139.40L161.51,142.60L158.71,139.40Z" fill="#fff" stroke="#00ffff" stroke-width="1.3"/><circle cx="161.51" cy="139.40" r="0.65" fill="#00ffff"/>
<circle cx="180.09" cy="131.90" r="3.4" fill="#fff"/><path d="M180.09,128.70L182.89,131.90L180.09,135.10L177.29,131.90Z" fill="#fff" stroke="#00ffff" stroke-width="1.3"/><circle cx="180.09" cy="131.90" r="0.65" fill="#00ffff"/>
<circle cx="198.67" cy="124.50" r="3.4" fill="#fff"/><path d="M198.67,121.30L201.47,124.50L198.67,127.70L195.87,124.50Z" fill="#fff" stroke="#00ffff" stroke-width="1.3"/><circle cx="198.67" cy="124.50" r="0.65" fill="#00ffff"/>
<circle cx="217.25" cy="118.50" r="3.4" fill="#fff"/><path d="M217.25,115.30L220.05,118.50L217.25,121.70L214.45,118.50Z" fill="#fff" stroke="#00ffff" stroke-width="1.3"/><circle cx="217.25" cy="118.50" r="0.65" fill="#00ffff"/>
<circle cx="235.83" cy="112.30" r="3.4" fill="#fff"/><path d="M235.83,109.10L238.63,112.30L235.83,115.50L233.03,112.30Z" fill="#fff" stroke="#00ffff" stroke-width="1.3"/><circle cx="235.83" cy="112.30" r="0.65" fill="#00ffff"/>
<circle cx="254.41" cy="105.80" r="3.4" fill="#fff"/><path d="M254.41,102.60L257.21,105.80L254.41,109.00L251.61,105.80Z" fill="#fff" stroke="#00ffff" stroke-width="1.3"/><circle cx="254.41" cy="105.80" r="0.65" fill="#00ffff"/>
<circle cx="272.99" cy="100.00" r="3.4" fill="#fff"/><path d="M272.99,96.80L275.79,100.00L272.99,103.20L270.19,100.00Z" fill="#fff" stroke="#00ffff" stroke-width="1.3"/><circle cx="272.99" cy="100.00" r="0.65" fill="#00ffff"/>
<circle cx="291.57" cy="93.10" r="3.4" fill="#fff"/><path d="M291.57,89.90L294.37,93.10L291.57,96.30L288.77,93.10Z" fill="#fff" stroke="#00ffff" stroke-width="1.3"/><circle cx="291.57" cy="93.10" r="0.65" fill="#00ffff"/>
<circle cx="310.15" cy="84.60" r="3.4" fill="#fff"/><path d="M310.15,81.40L312.95,84.60L310.15,87.80L307.35,84.60Z" fill="#fff" stroke="#00ffff" stroke-width="1.3"/><circle cx="310.15" cy="84.60" r="0.65" fill="#00ffff"/>
<circle cx="328.73" cy="79.80" r="3.4" fill="#fff"/><path d="M328.73,76.60L331.53,79.80L328.73,83.00L325.93,79.80Z" fill="#fff" stroke="#00ffff" stroke-width="1.3"/><circle cx="328.73" cy="79.80" r="0.65" fill="#00ffff"/>
<path clip-path="url(#c)" d="M31.40,250.50 L31.45,250.26 L31.55,249.78 L31.70,249.13 L31.87,248.34 L32.07,247.42 L32.30,246.39 L32.55,245.25 L32.82,244.02 L33.11,242.71 L33.43,241.32 L33.76,239.85 L34.12,238.32 L34.49,236.73 L34.88,235.08 L35.28,233.38 L35.71,231.64 L36.14,229.87 L36.60,228.06 L37.07,226.23 L37.55,224.38 L38.05,222.51 L38.57,220.64 L39.09,218.77 L39.64,216.91 L40.19,215.07 L40.76,213.24 L41.35,211.45 L41.94,209.70 L42.55,208.00 L43.17,206.35 L43.81,204.77 L44.45,203.24 L45.11,201.74 L45.78,200.27 L46.46,198.83 L47.16,197.41 L47.87,196.03 L48.58,194.67 L49.31,193.35 L50.05,192.05 L50.80,190.77 L51.57,189.52 L52.34,188.30 L53.13,187.09 L53.92,185.90 L54.73,184.72 L55.54,183.55 L56.37,182.39 L57.21,181.25 L58.06,180.13 L58.91,179.03 L59.78,177.95 L60.66,176.90 L61.55,175.86 L62.45,174.84 L63.36,173.84 L64.27,172.84 L65.20,171.86 L66.14,170.89 L67.08,169.93 L68.04,168.96 L69.01,168.00 L69.98,167.05 L70.97,166.12 L71.96,165.20 L72.96,164.30 L73.98,163.40 L75.00,162.51 L76.03,161.63 L77.07,160.75 L78.11,159.88 L79.17,159.00 L80.24,158.12 L81.31,157.23 L82.40,156.36 L83.49,155.48 L84.59,154.62 L85.70,153.76 L86.82,152.90 L87.94,152.04 L89.08,151.18 L90.22,150.31 L91.37,149.44 L92.53,148.55 L93.70,147.65 L94.88,146.73 L96.07,145.81 L97.26,144.88 L98.46,143.94 L99.67,143.00 L100.89,142.05 L102.11,141.10 L103.35,140.15 L104.59,139.20 L105.84,138.24 L107.10,137.29 L108.36,136.35 L109.64,135.42 L110.92,134.49 L112.21,133.54 L113.50,132.59 L114.81,131.61 L116.12,130.61 L117.44,129.57 L118.77,128.49 L120.10,127.33 L121.44,126.13 L122.79,124.88 L124.15,123.60 L125.52,122.33 L126.89,121.07 L128.27,119.85 L129.66,118.69 L131.05,117.60 L132.46,116.58 L133.86,115.59 L135.28,114.64 L136.71,113.71 L138.14,112.79 L139.58,111.85 L141.02,110.90 L142.48,109.91 L143.94,108.88 L145.40,107.82 L146.88,106.74 L148.36,105.64 L149.85,104.54 L151.34,103.42 L152.85,102.31 L154.36,101.19 L155.87,100.08 L157.40,98.98 L158.93,97.88 L160.47,96.78 L162.01,95.68 L163.56,94.56 L165.12,93.42 L166.68,92.26 L168.26,91.06 L169.84,89.82 L171.42,88.55 L173.01,87.25 L174.61,85.94 L176.22,84.63 L177.83,83.34 L179.45,82.07 L181.07,80.84 L182.71,79.64 L184.35,78.44 L185.99,77.26 L187.64,76.09 L189.30,74.92 L190.97,73.75 L192.64,72.57 L194.32,71.38 L196.00,70.18 L197.70,68.98 L199.39,67.78 L201.10,66.60 L202.81,65.44 L204.53,64.30 L206.25,63.21 L207.98,62.16 L209.72,61.15 L211.46,60.14 L213.21,59.11 L214.96,58.05 L216.73,56.93 L218.49,55.74 L220.27,54.50 L222.05,53.22 L223.84,51.89 L225.63,50.51 L227.43,49.09 L229.23,47.61 L231.05,46.07 L232.86,44.42 L234.69,42.71 L236.52,40.94 L238.36,39.16 L240.20,37.38 L242.05,35.65 L243.90,33.95 L245.76,32.25 L247.63,30.55 L249.50,28.86 L251.38,27.17 L253.27,25.49 L255.16,23.81 L257.06,22.13 L258.96,20.44 L260.87,18.76 L262.78,17.10 L264.71,15.44 L266.63,13.81 L268.57,12.20 L270.50,10.62 L272.45,9.05 L274.40,7.50" fill="none" stroke="#ffff00" stroke-width="1.3" stroke-linejoin="round"/>
<circle cx="31.45" cy="250.27" r="3.4" fill="#fff"/><circle cx="31.45" cy="250.27" r="4.0" fill="#ffff00"/><path d="M29.65,249.37Q31.45,253.37 33.25,249.37Q31.45,251.17 29.65,249.37Z" fill="#fff" stroke="#fff" stroke-width="0.5" stroke-linejoin="round"/>
<circle cx="43.84" cy="204.70" r="3.4" fill="#fff"/><circle cx="43.84" cy="204.70" r="4.0" fill="#ffff00"/><path d="M42.04,203.80Q43.84,207.80 45.63,203.80Q43.84,205.60 42.04,203.80Z" fill="#fff" stroke="#fff" stroke-width="0.5" stroke-linejoin="round"/>
<circle cx="56.22" cy="182.60" r="3.4" fill="#fff"/><circle cx="56.22" cy="182.60" r="4.0" fill="#ffff00"/><path d="M54.42,181.70Q56.22,185.70 58.02,181.70Q56.22,183.50 54.42,181.70Z" fill="#fff" stroke="#fff" stroke-width="0.5" stroke-linejoin="round"/>
<circle cx="68.61" cy="168.40" r="3.4" fill="#fff"/><circle cx="68.61" cy="168.40" r="4.0" fill="#ffff00"/><path d="M66.81,167.50Q68.61,171.50 70.41,167.50Q68.61,169.30 66.81,167.50Z" fill="#fff" stroke="#fff" stroke-width="0.5" stroke-linejoin="round"/>
<circle cx="80.99" cy="157.50" r="3.4" fill="#fff"/><circle cx="80.99" cy="157.50" r="4.0" fill="#ffff00"/><path d="M79.19,156.60Q80.99,160.60 82.79,156.60Q80.99,158.40 79.19,156.60Z" fill="#fff" stroke="#fff" stroke-width="0.5" stroke-linejoin="round"/>
<circle cx="93.38" cy="147.90" r="3.4" fill="#fff"/><circle cx="93.38" cy="147.90" r="4.0" fill="#ffff00"/><path d="M91.58,147.00Q93.38,151.00 95.18,147.00Q93.38,148.80 91.58,147.00Z" fill="#fff" stroke="#fff" stroke-width="0.5" stroke-linejoin="round"/>
<circle cx="105.76" cy="138.30" r="3.4" fill="#fff"/><circle cx="105.76" cy="138.30" r="4.0" fill="#ffff00"/><path d="M103.96,137.40Q105.76,141.40 107.56,137.40Q105.76,139.20 103.96,137.40Z" fill="#fff" stroke="#fff" stroke-width="0.5" stroke-linejoin="round"/>
<circle cx="118.15" cy="129.00" r="3.4" fill="#fff"/><circle cx="118.15" cy="129.00" r="4.0" fill="#ffff00"/><path d="M116.35,128.10Q118.15,132.10 119.95,128.10Q118.15,129.90 116.35,128.10Z" fill="#fff" stroke="#fff" stroke-width="0.5" stroke-linejoin="round"/>
<circle cx="130.53" cy="118.00" r="3.4" fill="#fff"/><circle cx="130.53" cy="118.00" r="4.0" fill="#ffff00"/><path d="M128.73,117.10Q130.53,121.10 132.33,117.10Q130.53,118.90 128.73,117.10Z" fill="#fff" stroke="#fff" stroke-width="0.5" stroke-linejoin="round"/>
<circle cx="142.92" cy="109.60" r="3.4" fill="#fff"/><circle cx="142.92" cy="109.60" r="4.0" fill="#ffff00"/><path d="M141.12,108.70Q142.92,112.70 144.72,108.70Q142.92,110.50 141.12,108.70Z" fill="#fff" stroke="#fff" stroke-width="0.5" stroke-linejoin="round"/>
<circle cx="155.30" cy="100.50" r="3.4" fill="#fff"/><circle cx="155.30" cy="100.50" r="4.0" fill="#ffff00"/><path d="M153.50,99.60Q155.30,103.60 157.10,99.60Q155.30,101.40 153.50,99.60Z" fill="#fff" stroke="#fff" stroke-width="0.5" stroke-linejoin="round"/>
<circle cx="167.69" cy="91.50" r="3.4" fill="#fff"/><circle cx="167.69" cy="91.50" r="4.0" fill="#ffff00"/><path d="M165.88,90.60Q167.69,94.60 169.49,90.60Q167.69,92.40 165.88,90.60Z" fill="#fff" stroke="#fff" stroke-width="0.5" stroke-linejoin="round"/>
<circle cx="180.07" cy="81.60" r="3.4" fill="#fff"/><circle cx="180.07" cy="81.60" r="4.0" fill="#ffff00"/><path d="M178.27,80.70Q180.07,84.70 181.87,80.70Q180.07,82.50 178.27,80.70Z" fill="#fff" stroke="#fff" stroke-width="0.5" stroke-linejoin="round"/>
<circle cx="192.45" cy="72.70" r="3.4" fill="#fff"/><circle cx="192.45" cy="72.70" r="4.0" fill="#ffff00"/><path d="M190.65,71.80Q192.45,75.80 194.25,71.80Q192.45,73.60 190.65,71.80Z" fill="#fff" stroke="#fff" stroke-width="0.5" stroke-linejoin="round"/>
<circle cx="204.84" cy="64.10" r="3.4" fill="#fff"/><circle cx="204.84" cy="64.10" r="4.0" fill="#ffff00"/><path d="M203.04,63.20Q204.84,67.20 206.64,63.20Q204.84,65.00 203.04,63.20Z" fill="#fff" stroke="#fff" stroke-width="0.5" stroke-linejoin="round"/>
<circle cx="217.22" cy="56.60" r="3.4" fill="#fff"/><circle cx="217.22" cy="56.60" r="4.0" fill="#ffff00"/><path d="M215.42,55.70Q217.22,59.70 219.02,55.70Q217.22,57.50 215.42,55.70Z" fill="#fff" stroke="#fff" stroke-width="0.5" stroke-linejoin="round"/>
<circle cx="229.61" cy="47.30" r="3.4" fill="#fff"/><circle cx="229.61" cy="47.30" r="4.0" fill="#ffff00"/><path d="M227.81,46.40Q229.61,50.40 231.41,46.40Q229.61,48.20 227.81,46.40Z" fill="#fff" stroke="#fff" stroke-width="0.5" stroke-linejoin="round"/>
<circle cx="241.99" cy="35.70" r="3.4" fill="#fff"/><circle cx="241.99" cy="35.70" r="4.0" fill="#ffff00"/><path d="M240.19,34.80Q241.99,38.80 243.79,34.80Q241.99,36.60 240.19,34.80Z" fill="#fff" stroke="#fff" stroke-width="0.5" stroke-linejoin="round"/>
<circle cx="254.38" cy="24.50" r="3.4" fill="#fff"/><circle cx="254.38" cy="24.50" r="4.0" fill="#ffff00"/><path d="M252.58,23.60Q254.38,27.60 256.18,23.60Q254.38,25.40 252.58,23.60Z" fill="#fff" stroke="#fff" stroke-width="0.5" stroke-linejoin="round"/>
<circle cx="266.76" cy="13.70" r="3.4" fill="#fff"/><circle cx="266.76" cy="13.70" r="4.0" fill="#ffff00"/><path d="M264.96,12.80Q266.76,16.80 268.56,12.80Q266.76,14.60 264.96,12.80Z" fill="#fff" stroke="#fff" stroke-width="0.5" stroke-linejoin="round"/>
<path clip-path="url(#c)" d="M31.40,250.50 L31.43,250.34 L31.50,250.01 L31.58,249.57 L31.69,249.02 L31.81,248.39 L31.95,247.68 L32.11,246.90 L32.27,246.05 L32.46,245.14 L32.65,244.17 L32.85,243.15 L33.07,242.07 L33.30,240.94 L33.54,239.77 L33.79,238.56 L34.05,237.30 L34.32,236.01 L34.60,234.68 L34.89,233.32 L35.19,231.93 L35.49,230.51 L35.81,229.06 L36.13,227.59 L36.47,226.10 L36.81,224.59 L37.16,223.07 L37.52,221.53 L37.89,219.98 L38.26,218.43 L38.64,216.86 L39.03,215.30 L39.43,213.74 L39.84,212.17 L40.25,210.62 L40.67,209.07 L41.10,207.54 L41.53,206.02 L41.97,204.52 L42.42,203.04 L42.88,201.59 L43.34,200.17 L43.81,198.78 L44.28,197.42 L44.77,196.07 L45.26,194.73 L45.75,193.42 L46.25,192.11 L46.76,190.83 L47.28,189.55 L47.80,188.30 L48.33,187.06 L48.86,185.83 L49.40,184.62 L49.95,183.43 L50.50,182.25 L51.06,181.08 L51.62,179.92 L52.20,178.78 L52.77,177.64 L53.35,176.51 L53.94,175.39 L54.54,174.28 L55.14,173.17 L55.74,172.06 L56.35,170.96 L56.97,169.87 L57.59,168.80 L58.22,167.74 L58.86,166.70 L59.50,165.68 L60.14,164.67 L60.79,163.67 L61.45,162.68 L62.11,161.69 L62.77,160.72 L63.45,159.75 L64.12,158.78 L64.81,157.80 L65.49,156.83 L66.19,155.85 L66.89,154.86 L67.59,153.86 L68.30,152.84 L69.01,151.81 L69.73,150.78 L70.45,149.74 L71.18,148.70 L71.92,147.67 L72.66,146.62 L73.40,145.58 L74.15,144.54 L74.90,143.50 L75.66,142.45 L76.43,141.41 L77.20,140.36 L77.97,139.32 L78.75,138.27 L79.53,137.23 L80.32,136.18 L81.11,135.14 L81.91,134.10 L82.71,133.07 L83.52,132.04 L84.33,131.02 L85.15,130.00 L85.97,128.98 L86.80,127.97 L87.63,126.94 L88.46,125.92 L89.30,124.88 L90.15,123.84 L91.00,122.79 L91.85,121.73 L92.71,120.65 L93.57,119.55 L94.44,118.44 L95.31,117.31 L96.19,116.17 L97.07,115.02 L97.95,113.86 L98.84,112.69 L99.74,111.51 L100.63,110.33 L101.54,109.15 L102.44,107.97 L103.36,106.78 L104.27,105.60 L105.19,104.42 L106.12,103.25 L107.05,102.08 L107.98,100.90 L108.92,99.73 L109.86,98.56 L110.80,97.38 L111.75,96.21 L112.71,95.03 L113.67,93.85 L114.63,92.67 L115.60,91.49 L116.57,90.31 L117.54,89.13 L118.52,87.94 L119.51,86.75 L120.50,85.55 L121.49,84.35 L122.48,83.15 L123.48,81.94 L124.49,80.74 L125.50,79.54 L126.51,78.34 L127.53,77.15 L128.55,75.97 L129.57,74.79 L130.60,73.62 L131.63,72.47 L132.67,71.35 L133.71,70.24 L134.75,69.14 L135.80,68.05 L136.86,66.95 L137.91,65.85 L138.97,64.73 L140.04,63.60 L141.11,62.44 L142.18,61.24 L143.25,60.01 L144.33,58.76 L145.42,57.48 L146.51,56.19 L147.60,54.88 L148.69,53.55 L149.79,52.19 L150.90,50.80 L152.00,49.38 L153.11,47.94 L154.23,46.45 L155.35,44.94 L156.47,43.36 L157.59,41.71 L158.72,40.00 L159.86,38.25 L161.00,36.46 L162.14,34.65 L163.28,32.84 L164.43,31.03 L165.58,29.24 L166.74,27.49 L167.90,25.79 L169.06,24.16 L170.23,22.58 L171.40,21.04 L172.58,19.51 L173.75,17.99 L174.94,16.44 L176.12,14.85 L177.31,13.19 L178.50,11.45 L179.70,9.60 L180.90,7.50" fill="none" stroke="#000000" stroke-width="1.3" stroke-linejoin="round"/>
<circle cx="43.84" cy="198.70" r="3.4" fill="#fff"/><path d="M43.84,195.10L46.84,200.20L40.84,200.20Z" fill="#000000"/>
<circle cx="56.22" cy="171.20" r="3.4" fill="#fff"/><path d="M56.22,167.60L59.22,172.70L53.22,172.70Z" fill="#000000"/>
<circle cx="68.61" cy="152.40" r="3.4" fill="#fff"/><path d="M68.61,148.80L71.61,153.90L65.61,153.90Z" fill="#000000"/>
<circle cx="80.99" cy="135.30" r="3.4" fill="#fff"/><path d="M80.99,131.70L83.99,136.80L77.99,136.80Z" fill="#000000"/>
<circle cx="93.38" cy="119.80" r="3.4" fill="#fff"/><path d="M93.38,116.20L96.38,121.30L90.38,121.30Z" fill="#000000"/>
<circle cx="105.76" cy="103.70" r="3.4" fill="#fff"/><path d="M105.76,100.10L108.76,105.20L102.76,105.20Z" fill="#000000"/>
<circle cx="118.15" cy="88.40" r="3.4" fill="#fff"/><path d="M118.15,84.80L121.15,89.90L115.15,89.90Z" fill="#000000"/>
<circle cx="130.53" cy="73.70" r="3.4" fill="#fff"/><path d="M130.53,70.10L133.53,75.20L127.53,75.20Z" fill="#000000"/>
<circle cx="142.92" cy="60.40" r="3.4" fill="#fff"/><path d="M142.92,56.80L145.92,61.90L139.92,61.90Z" fill="#000000"/>
<circle cx="155.30" cy="45.00" r="3.4" fill="#fff"/><path d="M155.30,41.40L158.30,46.50L152.30,46.50Z" fill="#000000"/>
<circle cx="167.69" cy="26.10" r="3.4" fill="#fff"/><path d="M167.69,22.50L170.69,27.60L164.69,27.60Z" fill="#000000"/>
<circle cx="180.07" cy="9.00" r="3.4" fill="#fff"/><path d="M180.07,5.40L183.07,10.50L177.07,10.50Z" fill="#000000"/>
<path clip-path="url(#c)" d="M31.40,250.50 L31.42,250.38 L31.46,250.14 L31.52,249.81 L31.60,249.40 L31.68,248.93 L31.77,248.40 L31.88,247.82 L31.99,247.19 L32.12,246.51 L32.25,245.78 L32.39,245.01 L32.53,244.20 L32.69,243.35 L32.85,242.46 L33.02,241.54 L33.20,240.59 L33.38,239.60 L33.57,238.58 L33.77,237.53 L33.97,236.45 L34.18,235.35 L34.39,234.22 L34.61,233.07 L34.84,231.89 L35.07,230.69 L35.31,229.47 L35.55,228.22 L35.80,226.96 L36.06,225.68 L36.32,224.39 L36.58,223.08 L36.85,221.75 L37.13,220.41 L37.41,219.06 L37.69,217.70 L37.98,216.33 L38.28,214.95 L38.58,213.56 L38.88,212.16 L39.19,210.76 L39.51,209.36 L39.82,207.95 L40.15,206.55 L40.47,205.14 L40.81,203.73 L41.14,202.32 L41.48,200.92 L41.83,199.53 L42.18,198.14 L42.53,196.76 L42.89,195.38 L43.26,194.02 L43.62,192.67 L43.99,191.33 L44.37,190.00 L44.75,188.68 L45.13,187.36 L45.52,186.05 L45.91,184.75 L46.31,183.46 L46.70,182.17 L47.11,180.88 L47.52,179.61 L47.93,178.34 L48.34,177.08 L48.76,175.83 L49.18,174.58 L49.61,173.35 L50.04,172.11 L50.47,170.89 L50.91,169.67 L51.35,168.45 L51.80,167.24 L52.25,166.04 L52.70,164.84 L53.16,163.64 L53.62,162.45 L54.08,161.26 L54.55,160.07 L55.02,158.89 L55.49,157.70 L55.97,156.52 L56.45,155.33 L56.94,154.16 L57.42,153.00 L57.92,151.84 L58.41,150.70 L58.91,149.57 L59.41,148.44 L59.92,147.33 L60.42,146.22 L60.94,145.12 L61.45,144.02 L61.97,142.93 L62.49,141.84 L63.02,140.75 L63.55,139.66 L64.08,138.57 L64.61,137.49 L65.15,136.40 L65.69,135.30 L66.24,134.20 L66.79,133.09 L67.34,131.98 L67.89,130.85 L68.45,129.72 L69.01,128.57 L69.58,127.42 L70.14,126.27 L70.71,125.11 L71.29,123.95 L71.86,122.79 L72.44,121.63 L73.02,120.47 L73.61,119.31 L74.20,118.14 L74.79,116.97 L75.39,115.81 L75.98,114.64 L76.58,113.47 L77.19,112.30 L77.80,111.14 L78.41,109.97 L79.02,108.80 L79.63,107.64 L80.25,106.48 L80.88,105.31 L81.50,104.16 L82.13,103.01 L82.76,101.88 L83.39,100.75 L84.03,99.62 L84.67,98.51 L85.31,97.39 L85.96,96.27 L86.60,95.16 L87.25,94.04 L87.91,92.91 L88.56,91.78 L89.22,90.64 L89.89,89.48 L90.55,88.31 L91.22,87.13 L91.89,85.93 L92.56,84.70 L93.24,83.45 L93.92,82.18 L94.60,80.89 L95.29,79.58 L95.97,78.26 L96.66,76.92 L97.36,75.57 L98.05,74.20 L98.75,72.82 L99.45,71.43 L100.15,70.02 L100.86,68.61 L101.57,67.18 L102.28,65.74 L103.00,64.30 L103.71,62.85 L104.43,61.39 L105.16,59.92 L105.88,58.45 L106.61,56.96 L107.34,55.45 L108.07,53.91 L108.81,52.36 L109.55,50.78 L110.29,49.20 L111.03,47.61 L111.78,46.02 L112.53,44.42 L113.28,42.83 L114.03,41.24 L114.79,39.67 L115.55,38.11 L116.31,36.57 L117.08,35.06 L117.84,33.57 L118.61,32.12 L119.39,30.68 L120.16,29.25 L120.94,27.84 L121.72,26.45 L122.50,25.07 L123.29,23.69 L124.07,22.33 L124.86,20.97 L125.66,19.61 L126.45,18.27 L127.25,16.92 L128.05,15.57 L128.85,14.22 L129.66,12.87 L130.46,11.51 L131.27,10.16 L132.09,8.83 L132.90,7.50" fill="none" stroke="#ff4500" stroke-width="1.3" stroke-linejoin="round"/>
<path d="M31.45,246.82L34.45,251.92L28.45,251.92Z" fill="none" stroke="#ff4500" stroke-width="1.3" stroke-linejoin="miter"/><circle cx="31.45" cy="250.22" r="0.8" fill="#ff4500"/>
<circle cx="43.84" cy="191.90" r="3.4" fill="#fff"/><path d="M43.84,188.50L46.84,193.60L40.84,193.60Z" fill="#fff" stroke="#ff4500" stroke-width="1.3" stroke-linejoin="miter"/><circle cx="43.84" cy="191.90" r="0.8" fill="#ff4500"/>
<circle cx="56.22" cy="155.90" r="3.4" fill="#fff"/><path d="M56.22,152.50L59.22,157.60L53.22,157.60Z" fill="#fff" stroke="#ff4500" stroke-width="1.3" stroke-linejoin="miter"/><circle cx="56.22" cy="155.90" r="0.8" fill="#ff4500"/>
<circle cx="68.61" cy="129.40" r="3.4" fill="#fff"/><path d="M68.61,126.00L71.61,131.10L65.61,131.10Z" fill="#fff" stroke="#ff4500" stroke-width="1.3" stroke-linejoin="miter"/><circle cx="68.61" cy="129.40" r="0.8" fill="#ff4500"/>
<circle cx="80.99" cy="105.10" r="3.4" fill="#fff"/><path d="M80.99,101.70L83.99,106.80L77.99,106.80Z" fill="#fff" stroke="#ff4500" stroke-width="1.3" stroke-linejoin="miter"/><circle cx="80.99" cy="105.10" r="0.8" fill="#ff4500"/>
<circle cx="93.38" cy="83.20" r="3.4" fill="#fff"/><path d="M93.38,79.80L96.38,84.90L90.38,84.90Z" fill="#fff" stroke="#ff4500" stroke-width="1.3" stroke-linejoin="miter"/><circle cx="93.38" cy="83.20" r="0.8" fill="#ff4500"/>
<circle cx="105.76" cy="58.70" r="3.4" fill="#fff"/><path d="M105.76,55.30L108.76,60.40L102.76,60.40Z" fill="#fff" stroke="#ff4500" stroke-width="1.3" stroke-linejoin="miter"/><circle cx="105.76" cy="58.70" r="0.8" fill="#ff4500"/>
<circle cx="118.15" cy="33.00" r="3.4" fill="#fff"/><path d="M118.15,29.60L121.15,34.70L115.15,34.70Z" fill="#fff" stroke="#ff4500" stroke-width="1.3" stroke-linejoin="miter"/><circle cx="118.15" cy="33.00" r="0.8" fill="#ff4500"/>
<circle cx="130.53" cy="11.40" r="3.4" fill="#fff"/><path d="M130.53,8.00L133.53,13.10L127.53,13.10Z" fill="#fff" stroke="#ff4500" stroke-width="1.3" stroke-linejoin="miter"/><circle cx="130.53" cy="11.40" r="0.8" fill="#ff4500"/>
<path clip-path="url(#c)" d="M33.20,241.60 L33.22,241.51 L33.26,241.32 L33.32,241.07 L33.39,240.75 L33.47,240.39 L33.55,239.98 L33.65,239.53 L33.76,239.04 L33.88,238.51 L34.00,237.95 L34.14,237.35 L34.28,236.72 L34.42,236.06 L34.58,235.37 L34.74,234.65 L34.90,233.91 L35.08,233.13 L35.26,232.33 L35.44,231.51 L35.64,230.66 L35.83,229.79 L36.04,228.90 L36.25,227.98 L36.46,227.05 L36.68,226.09 L36.91,225.11 L37.14,224.12 L37.37,223.10 L37.61,222.07 L37.86,221.02 L38.11,219.96 L38.37,218.88 L38.63,217.78 L38.89,216.67 L39.16,215.55 L39.44,214.41 L39.72,213.26 L40.00,212.09 L40.29,210.92 L40.58,209.73 L40.88,208.53 L41.18,207.32 L41.49,206.11 L41.80,204.88 L42.12,203.65 L42.43,202.41 L42.76,201.16 L43.09,199.90 L43.42,198.64 L43.75,197.37 L44.09,196.10 L44.44,194.83 L44.78,193.55 L45.14,192.27 L45.49,190.98 L45.85,189.70 L46.21,188.41 L46.58,187.13 L46.95,185.84 L47.33,184.56 L47.71,183.28 L48.09,182.00 L48.47,180.72 L48.86,179.45 L49.26,178.18 L49.65,176.92 L50.06,175.66 L50.46,174.42 L50.87,173.17 L51.28,171.94 L51.69,170.72 L52.11,169.50 L52.53,168.30 L52.96,167.09 L53.39,165.90 L53.82,164.71 L54.26,163.53 L54.70,162.36 L55.14,161.19 L55.58,160.03 L56.03,158.88 L56.49,157.73 L56.94,156.59 L57.40,155.45 L57.86,154.32 L58.33,153.19 L58.80,152.07 L59.27,150.95 L59.75,149.84 L60.23,148.73 L60.71,147.63 L61.19,146.52 L61.68,145.42 L62.17,144.32 L62.67,143.23 L63.17,142.13 L63.67,141.03 L64.17,139.93 L64.68,138.83 L65.19,137.73 L65.70,136.63 L66.22,135.52 L66.74,134.41 L67.26,133.29 L67.79,132.17 L68.32,131.04 L68.85,129.91 L69.38,128.76 L69.92,127.61 L70.46,126.44 L71.00,125.28 L71.55,124.12 L72.10,122.97 L72.65,121.82 L73.21,120.67 L73.76,119.53 L74.33,118.39 L74.89,117.25 L75.46,116.11 L76.03,114.98 L76.60,113.84 L77.17,112.70 L77.75,111.57 L78.33,110.43 L78.92,109.29 L79.50,108.16 L80.09,107.01 L80.68,105.87 L81.28,104.72 L81.88,103.57 L82.48,102.41 L83.08,101.25 L83.69,100.08 L84.29,98.91 L84.91,97.73 L85.52,96.54 L86.14,95.34 L86.76,94.13 L87.38,92.91 L88.00,91.68 L88.63,90.43 L89.26,89.19 L89.90,87.94 L90.53,86.69 L91.17,85.44 L91.81,84.19 L92.45,82.94 L93.10,81.69 L93.75,80.43 L94.40,79.17 L95.05,77.91 L95.71,76.64 L96.37,75.36 L97.03,74.08 L97.70,72.79 L98.36,71.49 L99.03,70.18 L99.71,68.86 L100.38,67.53 L101.06,66.18 L101.74,64.82 L102.42,63.45 L103.11,62.06 L103.79,60.66 L104.48,59.24 L105.18,57.80 L105.87,56.34 L106.57,54.86 L107.27,53.35 L107.97,51.81 L108.68,50.21 L109.38,48.58 L110.09,46.92 L110.80,45.25 L111.52,43.58 L112.24,41.91 L112.96,40.27 L113.68,38.65 L114.40,37.01 L115.13,35.34 L115.86,33.67 L116.59,31.99 L117.33,30.33 L118.06,28.70 L118.80,27.10 L119.54,25.55 L120.29,24.07 L121.03,22.66 L121.78,21.35 L122.53,20.18 L123.29,19.09 L124.04,18.01 L124.80,16.89 L125.56,15.64 L126.32,14.24 L127.09,12.71 L127.86,11.07 L128.63,9.33 L129.40,7.50" fill="none" stroke="#0000ff" stroke-width="1.3" stroke-dasharray="1.0,0.9" stroke-linejoin="round"/>
<circle cx="33.20" cy="241.60" r="3.4" fill="#fff"/><rect x="30.10" y="238.50" width="6.2" height="6.2" fill="#0000ff"/>
<circle cx="51.70" cy="170.70" r="3.4" fill="#fff"/><rect x="48.60" y="167.60" width="6.2" height="6.2" fill="#0000ff"/>
<circle cx="70.20" cy="127.00" r="3.4" fill="#fff"/><rect x="67.10" y="123.90" width="6.2" height="6.2" fill="#0000ff"/>
<circle cx="88.70" cy="90.30" r="3.4" fill="#fff"/><rect x="85.60" y="87.20" width="6.2" height="6.2" fill="#0000ff"/>
<circle cx="107.20" cy="53.50" r="3.4" fill="#fff"/><rect x="104.10" y="50.40" width="6.2" height="6.2" fill="#0000ff"/>
<circle cx="125.70" cy="15.40" r="3.4" fill="#fff"/><rect x="122.60" y="12.30" width="6.2" height="6.2" fill="#0000ff"/>
<path d="M29.50,272.0v-3.2M29.50,7.5v3.2M70.57,272.0v-3.2M70.57,7.5v3.2M111.63,272.0v-3.2M111.63,7.5v3.2M152.70,272.0v-3.2M152.70,7.5v3.2M193.77,272.0v-3.2M193.77,7.5v3.2M234.83,272.0v-3.2M234.83,7.5v3.2M275.90,272.0v-3.2M275.90,7.5v3.2M316.97,272.0v-3.2M316.97,7.5v3.2M29.5,7.50h3.2M337.5,7.50h-3.2M29.5,60.40h3.2M337.5,60.40h-3.2M29.5,113.30h3.2M337.5,113.30h-3.2M29.5,166.20h3.2M337.5,166.20h-3.2M29.5,219.10h3.2M337.5,219.10h-3.2M29.5,272.00h3.2M337.5,272.00h-3.2" stroke="#000" stroke-width="1" fill="none"/>
<rect x="29.5" y="7.5" width="308.0" height="264.5" fill="none" stroke="#000" stroke-width="0.9"/>
<path d="M310.0,182.00H329.8" fill="none" stroke="#ff0000" stroke-width="1.3"/>
<circle cx="319.90" cy="182.00" r="3.4" fill="#fff"/><path d="M317.00,182.00H322.80M319.90,179.10V184.90" stroke="#ff0000" stroke-width="1.3" fill="none"/>
<path d="M310.0,192.22H329.8" fill="none" stroke="#00ff00" stroke-width="1.3"/>
<circle cx="319.90" cy="192.22" r="3.4" fill="#fff"/><path d="M317.10,189.42L322.70,195.02M317.10,195.02L322.70,189.42" stroke="#00ff00" stroke-width="1.3" fill="none"/>
<path d="M310.0,202.44H329.8" fill="none" stroke="#0000ff" stroke-width="1.3"/>
<circle cx="319.90" cy="202.44" r="3.4" fill="#fff"/><circle cx="319.90" cy="202.44" r="3.3" fill="#0000ff"/>
<path d="M310.0,212.66H329.8" fill="none" stroke="#ff00ff" stroke-width="1.3" stroke-dasharray="1.5,1.1"/>
<circle cx="319.90" cy="212.66" r="3.4" fill="#fff"/><rect x="316.70" y="209.46" width="6.4" height="6.4" fill="#fff" stroke="#ff00ff" stroke-width="1.3"/><circle cx="319.90" cy="212.66" r="0.65" fill="#ff00ff"/>
<path d="M310.0,222.88H329.8" fill="none" stroke="#00ffff" stroke-width="1.3" stroke-dasharray="1.0,0.9"/>
<circle cx="319.90" cy="222.88" r="3.4" fill="#fff"/><path d="M319.90,219.68L322.70,222.88L319.90,226.08L317.10,222.88Z" fill="#fff" stroke="#00ffff" stroke-width="1.3"/><circle cx="319.90" cy="222.88" r="0.65" fill="#00ffff"/>
<path d="M310.0,233.10H329.8" fill="none" stroke="#ffff00" stroke-width="1.3"/>
<circle cx="319.90" cy="233.10" r="3.4" fill="#fff"/><circle cx="319.90" cy="233.10" r="4.0" fill="#ffff00"/><path d="M318.10,232.20Q319.90,236.20 321.70,232.20Q319.90,234.00 318.10,232.20Z" fill="#fff" stroke="#fff" stroke-width="0.5" stroke-linejoin="round"/>
<path d="M310.0,243.32H329.8" fill="none" stroke="#000000" stroke-width="1.3"/>
<circle cx="319.90" cy="243.32" r="3.4" fill="#fff"/><path d="M319.90,239.72L322.90,244.82L316.90,244.82Z" fill="#000000"/>
<path d="M310.0,253.54H329.8" fill="none" stroke="#ff4500" stroke-width="1.3"/>
<circle cx="319.90" cy="253.54" r="3.4" fill="#fff"/><path d="M319.90,250.14L322.90,255.24L316.90,255.24Z" fill="#fff" stroke="#ff4500" stroke-width="1.3" stroke-linejoin="miter"/><circle cx="319.90" cy="253.54" r="0.8" fill="#ff4500"/>
<path d="M310.0,263.76H329.8" fill="none" stroke="#0000ff" stroke-width="1.3" stroke-dasharray="1.0,0.9"/>
<circle cx="319.90" cy="263.76" r="3.4" fill="#fff"/><rect x="316.80" y="260.66" width="6.2" height="6.2" fill="#0000ff"/>
<path d="M270.8,179.90H275.3" stroke="#333" stroke-width="0.55" fill="none"/>
<path d="M270.8,189.90H275.3" stroke="#333" stroke-width="0.55" fill="none"/>
<path d="M270.8,199.90H275.3" stroke="#333" stroke-width="0.55" fill="none"/>
<path d="M270.8,210.90H275.3" stroke="#333" stroke-width="0.55" fill="none"/>
<path d="M270.8,220.90H275.3" stroke="#333" stroke-width="0.55" fill="none"/>
<path d="M270.8,230.90H275.3" stroke="#333" stroke-width="0.55" fill="none"/>
<path d="M270.8,240.90H275.3" stroke="#333" stroke-width="0.55" fill="none"/>
<path d="M270.8,250.90H275.3" stroke="#333" stroke-width="0.55" fill="none"/>
</svg>
<div class="t yt" style="top:4.10px">-4</div>
<div class="t yt" style="top:57.00px">-6</div>
<div class="t yt" style="top:109.90px">-8</div>
<div class="t yt" style="top:162.80px">-10</div>
<div class="t yt" style="top:215.70px">-12</div>
<div class="t yt" style="top:268.60px">-14</div>
<div class="t xt" style="left:15.50px;top:275.9px">0</div>
<div class="t xt" style="left:56.57px;top:275.9px">0.2</div>
<div class="t xt" style="left:97.63px;top:275.9px">0.4</div>
<div class="t xt" style="left:138.70px;top:275.9px">0.6</div>
<div class="t xt" style="left:179.77px;top:275.9px">0.8</div>
<div class="t xt" style="left:220.83px;top:275.9px">1</div>
<div class="t xt" style="left:261.90px;top:275.9px">1.2</div>
<div class="t xt" style="left:302.97px;top:275.9px">1.4</div>
<div class="ax" style="position:absolute;left:147.6px;top:282.5px;font-size:9.65px;line-height:12px;white-space:nowrap;">projection time<span style="margin-left:2.5px;font-size:10px">β</span></div>
<div class="ax" style="position:absolute;left:-19px;top:134.2px;width:50px;height:12px;font-size:9.8px;line-height:12px;white-space:nowrap;text-align:center;transform:rotate(-90deg);transform-origin:50% 50%">Log(Error)</div>
<div class="lg" style="top:177px">n=0.125</div>
<div class="lg" style="top:187px">n=0.250</div>
<div class="lg" style="top:197px">n=0.375</div>
<div class="lg" style="top:208px">n=0.500</div>
<div class="lg" style="top:218px">n=0.625</div>
<div class="lg" style="top:228px">n=0.750</div>
<div class="lg" style="top:238px">n=0.875</div>
<div class="lg" style="top:248px">n=1.000</div>
<div class="lg" style="top:257px">Hirsch Charge</div>
</body></html>
